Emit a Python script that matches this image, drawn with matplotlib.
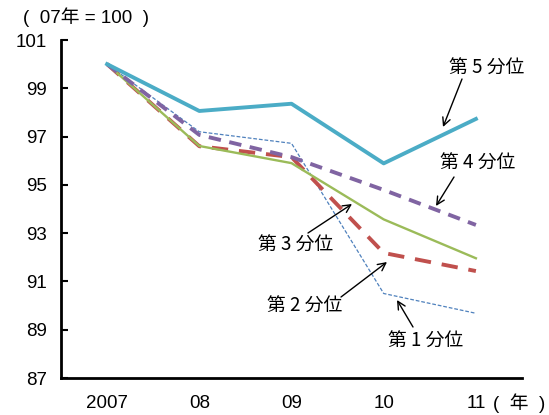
import matplotlib
matplotlib.use("Agg")
import matplotlib.pyplot as plt

years = ["2007", "08", "09", "10", "11"]
q5 = [100, 98.06, 98.36, 95.89, 97.73]
q4 = [100, 97.07, 96.15, 94.79, 93.34]
q3 = [100, 96.61, 95.90, 93.57, 91.96]
q2 = [100, 96.60, 96.15, 92.18, 91.43]
q1 = [100, 97.20, 96.72, 90.50, 89.68]
yticks = [87, 89, 91, 93, 95, 97, 99, 101]

labels = ["第 5 分位", "第 4 分位", "第 3 分位", "第 2 分位", "第 1 分位"]

MIX = ["Liberation Sans", "Noto Sans CJK JP"]
CJK = ["Noto Sans CJK JP", "DejaVu Sans"]
FS = 13.5

fig = plt.figure(figsize=(5.49, 4.15), dpi=100)
ax = fig.add_axes([61/549, 37/415, (522-61)/549, (378-40)/415])

x = list(range(len(years)))
ax.plot(x, q1, color="#4F81BD", lw=0.9, dashes=(3, 1.5), zorder=2)
ax.plot(x, q2, color="#C0504D", lw=2.8, dashes=(4.2, 2.8), zorder=3)
ax.plot(x, q3, color="#9BBB59", lw=1.7, zorder=4)
ax.plot(x, q4, color="#8064A2", lw=2.8, dashes=(3.2, 2.2), zorder=5)
ax.plot(x, q5, color="#4BACC6", lw=2.8, zorder=6)

ax.set_xlim(-0.5, 4.5)
ax.set_ylim(87, 101)
ax.set_yticks(yticks)
ax.set_yticklabels([str(v) for v in yticks], family="Liberation Sans", fontsize=FS)
ax.set_xticks(x)
ax.set_xticklabels(years, family="Liberation Sans", fontsize=FS)
ax.tick_params(axis="y", direction="in", length=5, width=1.5, pad=10)
ax.tick_params(axis="x", length=0, pad=12)
for s in ["top", "right"]:
    ax.spines[s].set_visible(False)
for s in ["left", "bottom"]:
    ax.spines[s].set_linewidth(2)

def px(xp, yp):
    return (xp / 549, 1 - yp / 415)

# annotations: (label, text center px, arrow start px, arrow end px)
ann = [
    (labels[0], (487, 68), (462, 79), (443, 127)),
    (labels[1], (478, 163), (454, 177), (436, 206)),
    (labels[2], (296, 245), (308, 233), (352, 204)),
    (labels[3], (305, 306), (341, 297), (387, 262)),
    (labels[4], (426, 341), (413, 327), (397, 300)),
]
for lab, tc, a0, a1 in ann:
    fig.text(*px(*tc), lab, family=CJK, fontsize=FS, ha="center", va="center")
    ax.annotate("", xy=px(*a1), xytext=px(*a0), xycoords="figure fraction",
                textcoords="figure fraction",
                arrowprops=dict(arrowstyle="->", color="black", lw=1.0,
                                mutation_scale=14, shrinkA=0, shrinkB=0))

fig.text(*px(23, 17), "(  07年 = 100  )", family=MIX, fontsize=FS, ha="left", va="center")
fig.text(*px(545, 403), "(  年  )", family=MIX, fontsize=FS, ha="right", va="center")

fig.savefig("out.png", dpi=100)
